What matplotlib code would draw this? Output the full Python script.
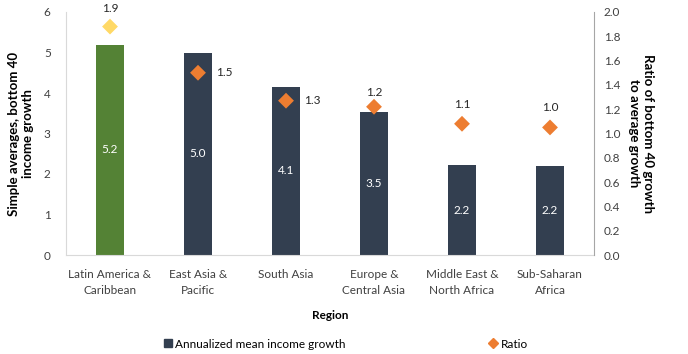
import matplotlib
matplotlib.use("Agg")
import matplotlib.pyplot as plt
from matplotlib.lines import Line2D

plt.rcParams['font.family'] = ['Lato', 'DejaVu Sans']

regions = ["Latin America &\nCaribbean", "East Asia &\nPacific", "South Asia",
           "Europe &\nCentral Asia", "Middle East &\nNorth Africa", "Sub-Saharan\nAfrica"]
growth = [5.2, 5.0, 4.1, 3.5, 2.2, 2.2]
growth_pos = [5.19, 4.99, 4.15, 3.53, 2.22, 2.20]
ratio_labels = ["1.9", "1.5", "1.3", "1.2", "1.1", "1.0"]
ratio = [1.88, 1.50, 1.27, 1.22, 1.08, 1.05]
left_ticks = [0, 1, 2, 3, 4, 5, 6]
right_ticks = [0.0, 0.2, 0.4, 0.6, 0.8, 1.0, 1.2, 1.4, 1.6, 1.8, 2.0]

navy = "#333F50"
green = "#548235"
orange = "#ED7D31"
yellow = "#FFD966"
grey = "#D9D9D9"
fs = 8.5

fig = plt.figure(figsize=(6.88, 3.54), dpi=100)
ax = fig.add_axes([66/688, 1-255/354, (594-66)/688, (255-12)/354])
x = list(range(len(regions)))
colors = [green] + [navy]*(len(regions)-1)
bars = ax.bar(x, growth_pos, width=0.32, color=colors, zorder=2)
for xi, h, lab in zip(x, growth_pos, growth):
    ax.text(xi, h/2, f"{lab:.1f}", ha='center', va='center', color='white', fontsize=fs)

ax.set_xlim(-0.5, len(regions)-0.5)
ax.set_ylim(0, 6)
ax.set_yticks(left_ticks)
ax.set_xticks(x)
ax.set_xticklabels(regions, fontsize=fs, linespacing=1.6)
ax.tick_params(axis='both', length=0, labelsize=fs, colors='#404040')
ax.tick_params(axis='x', pad=10)
ax.tick_params(axis='y', pad=11)
for s in ['top', 'right']:
    ax.spines[s].set_visible(False)
ax.spines['left'].set_color(grey)
ax.spines['bottom'].set_color(grey)
ax.set_xlabel("Region", fontsize=fs, fontweight='bold', labelpad=10)
ax.set_ylabel("Simple averages, bottom 40\nincome growth", fontsize=9.5, fontweight='bold',
              labelpad=7, linespacing=1.2)

ax2 = ax.twinx()
ax2.set_ylim(0, 2.0)
ax2.set_yticks(right_ticks)
ax2.set_yticklabels([f"{t:.1f}" for t in right_ticks])
ax2.tick_params(axis='y', length=0, labelsize=fs, colors='#404040', pad=7)
for s in ['top', 'left', 'bottom']:
    ax2.spines[s].set_visible(False)
ax2.spines['right'].set_color('#A6A6A6')
mcolors = [yellow] + [orange]*(len(regions)-1)
ax2.scatter(x, ratio, marker='D', s=65, c=mcolors, zorder=3, linewidths=0)
offsets = [(0, 0.15, 'center'), (0.2, 0.0, 'left'), (0.2, 0.0, 'left'),
           (0, 0.12, 'center'), (0, 0.16, 'center'), (0, 0.16, 'center')]
for xi, r, lab, (dx, dy, ha) in zip(x, ratio, ratio_labels, offsets):
    ax2.text(xi+dx, r+dy, lab, ha=ha, va='center', fontsize=fs, color='#262626')
ax2.set_ylabel("Ratio of bottom 40 growth\nto average growth", fontsize=9.5, fontweight='bold',
               rotation=-90, labelpad=24, linespacing=1.2)

handles = [Line2D([], [], marker='s', color=navy, linestyle='None', markersize=6),
           Line2D([], [], marker='D', color=orange, linestyle='None', markersize=5)]
fig.legend(handles, ["Annualized mean income growth", "Ratio"], loc='center',
           bbox_to_anchor=(345/688, 1-344/354), ncol=2, frameon=False, fontsize=fs,
           columnspacing=12, handletextpad=0.1, handlelength=1.0)

fig.savefig("out.png", dpi=100)
